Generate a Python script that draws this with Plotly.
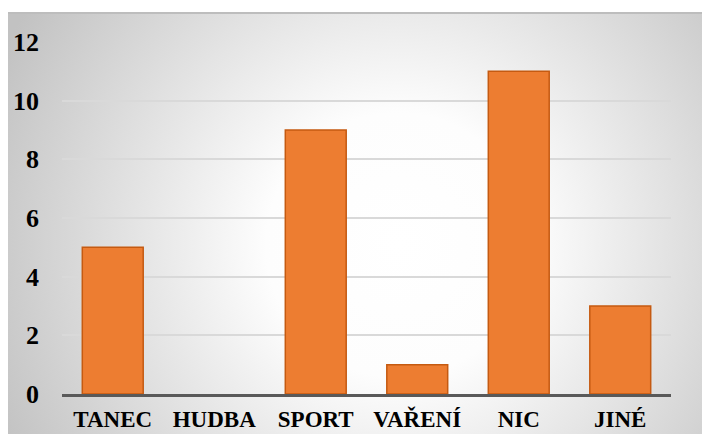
import base64
import plotly.graph_objects as go

categories = ["TANEC", "HUDBA", "SPORT", "VAŘENÍ", "NIC", "JINÉ"]
values = [5, 0, 9, 1, 11, 3]
y_ticks = [0, 2, 4, 6, 8, 10, 12]

# Soft radial backdrop (white centre fading to grey edges) as an inline SVG image
svg = (
    '<svg xmlns="http://www.w3.org/2000/svg" width="702" height="421" '
    'preserveAspectRatio="none" viewBox="0 0 702 421">'
    '<defs><radialGradient id="g" cx="390" cy="232" r="440" '
    'gradientUnits="userSpaceOnUse">'
    '<stop offset="0" stop-color="#ffffff"/>'
    '<stop offset="0.3" stop-color="#fdfdfd"/>'
    '<stop offset="1" stop-color="#c2c2c2"/>'
    '</radialGradient></defs>'
    '<rect width="702" height="421" fill="url(#g)"/></svg>'
)
bg_src = "data:image/svg+xml;base64," + base64.b64encode(svg.encode()).decode()

# empty categories get no outline so nothing shows on the baseline
outline_w = [1.5 if v > 0 else 0 for v in values]

fig = go.Figure(
    go.Bar(
        x=categories,
        y=values,
        marker=dict(color="#ED7D31", line=dict(color="#C55A11", width=outline_w)),
    )
)

font_family = "Liberation Serif"
PW, PH = 609, 352  # plot area size in px

fig.update_layout(
    width=702,
    height=434,
    margin=dict(l=62, r=31, t=42, b=40),
    paper_bgcolor="white",
    plot_bgcolor="rgba(0,0,0,0)",
    bargap=0.4,
    showlegend=False,
    images=[
        dict(
            source=bg_src,
            xref="paper", yref="paper",
            x=(8 - 62) / PW, y=1 + 29 / PH,
            sizex=702 / PW, sizey=421 / PH,
            xanchor="left", yanchor="top",
            sizing="stretch", layer="below",
        )
    ],
    shapes=[
        dict(
            type="line", xref="paper", yref="paper",
            x0=(8 - 62) / PW, x1=1 + 31 / PW,
            y0=1 + 29 / PH, y1=1 + 29 / PH,
            line=dict(color="#bdbdbd", width=2),
        )
    ],
    xaxis=dict(
        automargin=False,
        showgrid=False,
        showline=True,
        linecolor="#595959",
        linewidth=3,
        ticks="",
        tickfont=dict(family=font_family, size=23, color="black", weight="bold"),
        ticklabelstandoff=2,
    ),
    yaxis=dict(
        automargin=False,
        range=[0, 12],
        tickvals=y_ticks,
        showgrid=True,
        gridcolor="#d9d9d9",
        gridwidth=1.5,
        zeroline=False,
        showline=False,
        ticks="",
        tickfont=dict(family=font_family, size=26, color="black", weight="bold"),
        ticklabelstandoff=22,
    ),
)

fig.write_html("out.html")
